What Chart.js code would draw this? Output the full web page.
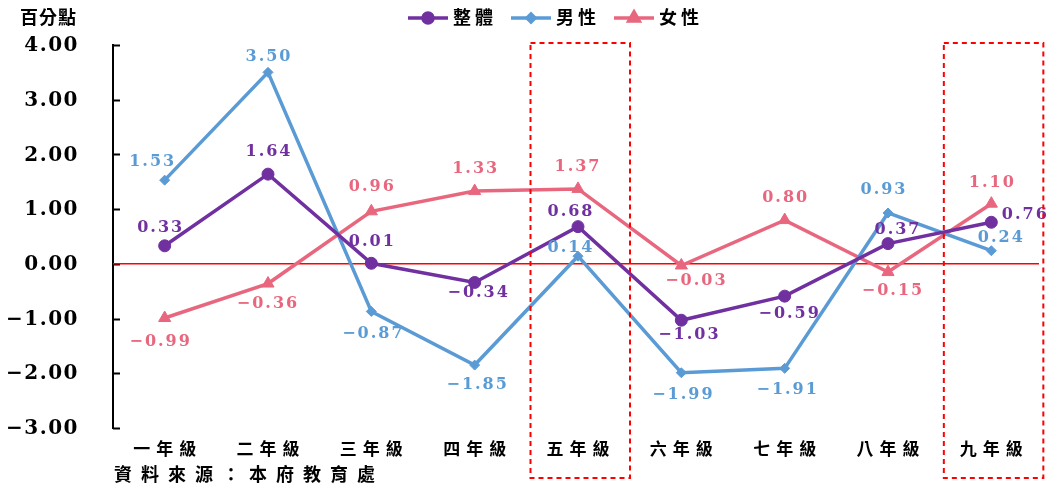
<!DOCTYPE html>
<html>
<head>
<meta charset="utf-8">
<script src="https://cdn.jsdelivr.net/npm/chart.js@4.4.1/dist/chart.umd.min.js"></script>
<style>
html,body{margin:0;padding:0;background:#fff;}
#wrap{width:1051px;height:488px;}
</style>
</head>
<body>
<div id="wrap"><canvas id="c" width="1051" height="488"></canvas></div>
<script>
// ---- data ----
const categories = ['一年級','二年級','三年級','四年級','五年級','六年級','七年級','八年級','九年級'];
const seriesNames = ['整體','男性','女性'];
const overall = [0.33, 1.64, 0.01, -0.34, 0.68, -1.03, -0.59, 0.37, 0.76];
const male    = [1.53, 3.50, -0.87, -1.85, 0.14, -1.99, -1.91, 0.93, 0.24];
const female  = [-0.99, -0.36, 0.96, 1.33, 1.37, -0.03, 0.80, -0.15, 1.10];
const yTicks  = [4, 3, 2, 1, 0, -1, -2, -3];
const highlighted = ['五年級','九年級'];
const yUnit = '百分點';
const sourceText = '資料來源：本府教育處';

// ---- styles / label placement (kept apart from data) ----
const colors = ['#7030A0', '#5B9BD5', '#E8677E'];
const labelColors = ['#7030A0', '#5B9BD5', '#E8677E'];
const pointStyles = ['circle', 'rectRot', 'triangle'];
const pointRadii = [6, 5, 7];
const labelOffsets = [
  [[-5,-18],[0,-22],[0,-21],[3,10],[-8,-15],[7,15],[4,18],[9,-14],[33,-7]],
  [[-13,-18],[0,-16],[1,22],[2,20],[-8,-8],[1,22],[2,21],[-5,-23],[9,-13]],
  [[-5,24],[-1,20],[0,-24],[0,-22],[-1,-22],[14,15],[0,-22],[4,19],[0,-21]]
];
const NUMFONT = '"DejaVu Serif","Liberation Serif",serif';
const CJKFONT = '"Liberation Serif","Noto Sans CJK TC",serif';

const seriesData = [overall, male, female];
const fmt = v => v.toFixed(2).replace('-', '\u2212');

const decorPlugin = {
  id: 'decor',
  beforeDatasetsDraw(chart) {
    const ctx = chart.ctx, ca = chart.chartArea;
    const y = chart.scales.y;
    ctx.save();
    // inward tick marks on y axis
    ctx.strokeStyle = '#000'; ctx.lineWidth = 2;
    yTicks.forEach(v => {
      const py = Math.round(y.getPixelForValue(v)) + 0.5;
      ctx.beginPath(); ctx.moveTo(ca.left, py); ctx.lineTo(ca.left + 7, py); ctx.stroke();
    });
    // zero line
    ctx.strokeStyle = '#FF0000'; ctx.lineWidth = 1.5;
    const zy = y.getPixelForValue(0);
    ctx.beginPath(); ctx.moveTo(ca.left, zy); ctx.lineTo(ca.right - 4, zy); ctx.stroke();
    ctx.restore();
  },
  afterDraw(chart) {
    const ctx = chart.ctx;
    const y = chart.scales.y, x = chart.scales.x;
    ctx.save();
    // y tick labels
    ctx.fillStyle = '#000';
    ctx.font = 'bold 20px ' + NUMFONT;
    ctx.letterSpacing = '1.5px';
    ctx.textAlign = 'right'; ctx.textBaseline = 'middle';
    yTicks.forEach(v => {
      ctx.fillText(fmt(v), 79, y.getPixelForValue(v) + 1);
    });
    // x category labels
    ctx.font = 'bold 17px ' + CJKFONT;
    ctx.letterSpacing = '6px';
    ctx.textAlign = 'center';
    categories.forEach((c, i) => {
      ctx.fillText(c, x.getPixelForValue(i) + 3, 451);
    });
    // title + source
    ctx.textAlign = 'left';
    ctx.font = 'bold 18px ' + CJKFONT;
    ctx.letterSpacing = '1px';
    ctx.fillText(yUnit, 20, 19);
    ctx.font = 'bold 18px ' + CJKFONT;
    ctx.letterSpacing = '9px';
    ctx.fillText(sourceText, 114, 476);

    // data labels
    ctx.font = 'bold 16px ' + NUMFONT;
    ctx.letterSpacing = '2px';
    ctx.textAlign = 'center'; ctx.textBaseline = 'middle';
    chart.data.datasets.forEach((ds, di) => {
      const meta = chart.getDatasetMeta(di);
      ctx.fillStyle = labelColors[di];
      meta.data.forEach((pt, i) => {
        const o = labelOffsets[di][i];
        ctx.fillText(fmt(ds.data[i]), pt.x + o[0] + 1, pt.y + o[1]);
      });
    });

    // highlight boxes
    ctx.letterSpacing = '0px';
    ctx.strokeStyle = '#FF0000'; ctx.lineWidth = 2; ctx.setLineDash([5, 4]);
    highlighted.forEach(name => {
      const i = categories.indexOf(name);
      const cx = x.getPixelForValue(i);
      const half = 47;
      const l = cx - half - 0.5;
      const r = Math.min(cx + half + 5, 1045);
      ctx.strokeRect(l, 43, r - l, 435);
    });
    ctx.setLineDash([]);

    // legend
    let lx = 408;
    const ly = 18;
    ctx.font = 'bold 18px ' + CJKFONT;
    ctx.letterSpacing = '4px';
    ctx.textAlign = 'left';
    chart.data.datasets.forEach((ds, di) => {
      ctx.strokeStyle = colors[di]; ctx.fillStyle = colors[di]; ctx.lineWidth = 3.5;
      ctx.beginPath(); ctx.moveTo(lx, ly); ctx.lineTo(lx + 40, ly); ctx.stroke();
      Chart.helpers.drawPoint(ctx, {pointStyle: pointStyles[di], radius: pointRadii[di] - 1, borderWidth: 1}, lx + 20, ly);
      ctx.fill();
      ctx.fillStyle = '#000';
      ctx.fillText(ds.label, lx + 45, ly + 1);
      lx += 45 + ctx.measureText(ds.label).width + 14;
    });
    ctx.restore();
  }
};

new Chart(document.getElementById('c'), {
  type: 'line',
  data: {
    labels: categories,
    datasets: seriesNames.map((n, i) => ({
      label: n,
      data: seriesData[i],
      borderColor: colors[i],
      backgroundColor: colors[i],
      borderWidth: 3.5,
      pointStyle: pointStyles[i],
      pointRadius: pointRadii[i],
      pointBorderWidth: 1,
      pointBackgroundColor: colors[i],
      pointBorderColor: colors[i],
      tension: 0,
      fill: false
    }))
  },
  options: {
    responsive: false,
    animation: false,
    devicePixelRatio: 1,
    layout: { padding: { left: 0, right: 7, top: 45, bottom: 0 } },
    plugins: { legend: { display: false }, tooltip: { enabled: false } },
    scales: {
      x: {
        offset: true,
        grid: { display: false, drawTicks: false },
        border: { display: false },
        ticks: { display: false },
        afterFit(s) { s.height = 60; }
      },
      y: {
        min: -3, max: 4,
        ticks: { display: false, stepSize: 1 },
        grid: { drawOnChartArea: false, drawTicks: false },
        border: { display: true, color: '#000', width: 2 },
        afterFit(s) { s.width = 113; }
      }
    }
  },
  plugins: [decorPlugin]
});
</script>
</body>
</html>
